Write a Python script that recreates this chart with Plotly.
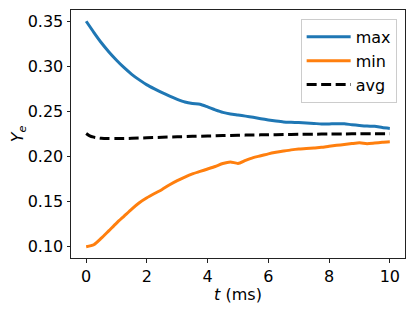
import plotly.graph_objects as go

t = [0.0, 0.25, 0.5, 0.75, 1.0, 1.25, 1.5, 1.75, 2.0, 2.25, 2.5, 2.75, 3.0, 3.25, 3.5, 3.75,
     4.0, 4.25, 4.5, 4.75, 5.0, 5.25, 5.5, 5.75, 6.0, 6.25, 6.5, 6.75, 7.0, 7.25, 7.5, 7.75,
     8.0, 8.25, 8.5, 8.75, 9.0, 9.25, 9.5, 9.75, 10.0]

y_max = [0.3500, 0.3378, 0.3262, 0.3160, 0.3068, 0.2985, 0.2912, 0.2850, 0.2795, 0.2750,
         0.2708, 0.2670, 0.2635, 0.2605, 0.2588, 0.2580, 0.2550, 0.2518, 0.2490, 0.2472,
         0.2460, 0.2448, 0.2435, 0.2420, 0.2406, 0.2394, 0.2384, 0.2380, 0.2377, 0.2372,
         0.2367, 0.2361, 0.2362, 0.2365, 0.2363, 0.2353, 0.2345, 0.2338, 0.2335, 0.2322, 0.2312]

y_min = [0.1000, 0.1022, 0.1095, 0.1178, 0.1262, 0.1340, 0.1418, 0.1488, 0.1543, 0.1590,
         0.1635, 0.1688, 0.1733, 0.1773, 0.1808, 0.1835, 0.1862, 0.1890, 0.1923, 0.1940,
         0.1924, 0.1958, 0.1988, 0.2008, 0.2030, 0.2047, 0.2061, 0.2074, 0.2084, 0.2089,
         0.2095, 0.2102, 0.2114, 0.2124, 0.2134, 0.2144, 0.2152, 0.2143, 0.2150, 0.2158, 0.2164]

t_avg = [0.0, 0.1, 0.25, 0.5, 0.75, 1.0, 1.5, 2.0, 2.5, 3.0, 3.5, 4.0, 4.5, 5.0, 5.5,
         6.0, 6.5, 7.0, 7.5, 8.0, 8.5, 9.0, 9.5, 10.0]
y_avg = [0.2255, 0.2232, 0.2215, 0.2202, 0.2199, 0.2199, 0.2202, 0.2208, 0.2214, 0.2219,
         0.2224, 0.2228, 0.2232, 0.2236, 0.2239, 0.2242, 0.2244, 0.2246, 0.2248, 0.2250,
         0.2251, 0.2252, 0.2253, 0.2254]

x_ticks = [0, 2, 4, 6, 8, 10]
y_ticks = [0.10, 0.15, 0.20, 0.25, 0.30, 0.35]

FONT = "DejaVu Sans"

fig = go.Figure()
fig.add_trace(go.Scatter(x=t, y=y_max, mode="lines", name="max",
                         line=dict(color="#1f77b4", width=3, shape="spline", smoothing=0.6)))
fig.add_trace(go.Scatter(x=t, y=y_min, mode="lines", name="min",
                         line=dict(color="#ff7f0e", width=3, shape="spline", smoothing=0.6)))
fig.add_trace(go.Scatter(x=t_avg, y=y_avg, mode="lines", name="avg",
                         line=dict(color="black", width=3, dash="10px,4.5px",
                                   shape="spline", smoothing=0.6)))

axis_common = dict(
    showgrid=False, zeroline=False, showline=True, mirror=True, automargin=False,
    linecolor="#222222", linewidth=1, ticks="outside", ticklen=3.5,
    tickwidth=1, tickcolor="#222222",
    tickfont=dict(family=FONT, size=16, color="black"),
)

# The page body has an 8px default margin, so the figure is sized to fit the
# 415x309 window and its margins are set so the plot area lands where the
# reference's does.
fig.update_layout(
    width=407, height=301,
    margin=dict(l=63, r=10, t=2, b=51),
    paper_bgcolor="white", plot_bgcolor="white",
    font=dict(family=FONT, size=16, color="black"),
    showlegend=True,
    legend=dict(
        x=0.975, y=0.964, xanchor="right", yanchor="top",
        bgcolor="white", bordercolor="#cccccc", borderwidth=1,
        itemwidth=44,
        font=dict(family=FONT, size=16, color="black"),
    ),
    xaxis=dict(
        range=[-0.5, 10.5], tickvals=x_ticks, ticktext=[str(v) for v in x_ticks],
        title=dict(text="<i>t</i> (ms)", font=dict(family=FONT, size=16), standoff=4),
        **axis_common,
    ),
    yaxis=dict(
        range=[0.0875, 0.3625], tickvals=y_ticks, ticktext=[f"{v:.2f}" for v in y_ticks],
        title=dict(text="<i>Y</i><sub><i>e</i></sub>", font=dict(family=FONT, size=16), standoff=6),
        **axis_common,
    ),
)

fig.write_html("out.html")
